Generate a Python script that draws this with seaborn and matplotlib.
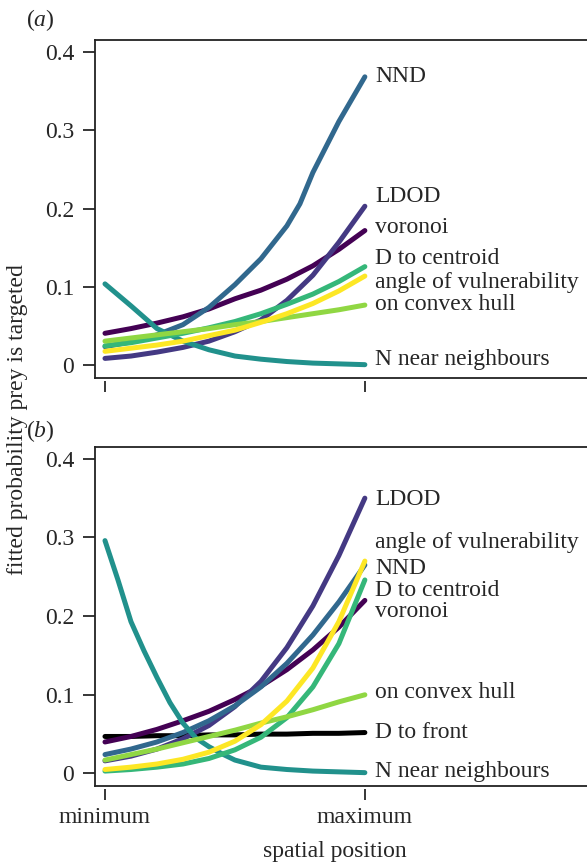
import numpy as np
import pandas as pd
import seaborn as sns
import matplotlib.pyplot as plt

# positions along the spatial gradient (minimum -> maximum)
pos = [0.0, 0.1, 0.2, 0.3, 0.4, 0.5, 0.6, 0.7, 0.8, 0.9, 1.0]
pos_nnd_a = [0.0, 0.1, 0.2, 0.3, 0.4, 0.5, 0.6, 0.7, 0.75, 0.8, 0.9, 1.0]
pos_fine = [0.0, 0.05, 0.1, 0.15, 0.2, 0.25, 0.3, 0.35, 0.4, 0.45, 0.5, 0.6, 0.7, 0.8, 0.9, 1.0]

# panel (a): fitted probability
a_voronoi = [0.041, 0.047, 0.054, 0.062, 0.072, 0.085, 0.096, 0.110, 0.127, 0.148, 0.172]
a_ldod = [0.009, 0.012, 0.017, 0.023, 0.031, 0.043, 0.058, 0.083, 0.115, 0.157, 0.203]
a_nnd = [0.024, 0.030, 0.039, 0.052, 0.074, 0.103, 0.136, 0.178, 0.206, 0.246, 0.311, 0.368]
a_nnear = [0.104, 0.076, 0.047, 0.031, 0.020, 0.012, 0.008, 0.005, 0.003, 0.002, 0.001]
a_dcent = [0.025, 0.029, 0.035, 0.041, 0.048, 0.056, 0.066, 0.078, 0.091, 0.107, 0.126]
a_hull = [0.031, 0.035, 0.039, 0.043, 0.047, 0.052, 0.056, 0.061, 0.066, 0.071, 0.077]
a_angle = [0.018, 0.022, 0.026, 0.031, 0.038, 0.045, 0.055, 0.066, 0.079, 0.095, 0.114]

# panel (b)
b_voronoi = [0.040, 0.047, 0.056, 0.067, 0.079, 0.094, 0.111, 0.132, 0.157, 0.186, 0.220]
b_ldod = [0.016, 0.022, 0.031, 0.044, 0.061, 0.085, 0.117, 0.160, 0.213, 0.277, 0.350]
b_nnd = [0.024, 0.031, 0.040, 0.052, 0.067, 0.086, 0.110, 0.140, 0.176, 0.218, 0.265]
b_nnear = [0.296, 0.246, 0.193, 0.156, 0.122, 0.090, 0.064, 0.045, 0.034, 0.025, 0.017,
           0.008, 0.005, 0.003, 0.002, 0.001]
b_dcent = [0.003, 0.005, 0.008, 0.012, 0.019, 0.030, 0.046, 0.071, 0.110, 0.165, 0.246]
b_hull = [0.017, 0.024, 0.031, 0.039, 0.047, 0.055, 0.064, 0.072, 0.081, 0.091, 0.100]
b_angle = [0.005, 0.008, 0.012, 0.018, 0.027, 0.041, 0.062, 0.092, 0.134, 0.193, 0.270]
b_front = [0.047, 0.047, 0.048, 0.048, 0.049, 0.049, 0.050, 0.050, 0.051, 0.051, 0.052]

names = ['voronoi', 'LDOD', 'NND', 'N near neighbours', 'D to centroid',
         'on convex hull', 'angle of vulnerability', 'D to front']
colours = ['#440154', '#443983', '#31688E', '#21918C', '#35B779',
           '#90D743', '#FDE725', 'black']
palette = dict(zip(names, colours))

panel_a = {'voronoi': (pos, a_voronoi), 'LDOD': (pos, a_ldod), 'NND': (pos_nnd_a, a_nnd),
           'N near neighbours': (pos, a_nnear), 'D to centroid': (pos, a_dcent),
           'on convex hull': (pos, a_hull), 'angle of vulnerability': (pos, a_angle)}
panel_b = {'D to front': (pos, b_front), 'voronoi': (pos, b_voronoi), 'LDOD': (pos, b_ldod),
           'NND': (pos, b_nnd), 'N near neighbours': (pos_fine, b_nnear),
           'D to centroid': (pos, b_dcent), 'on convex hull': (pos, b_hull),
           'angle of vulnerability': (pos, b_angle)}

# label heights (moved apart so they do not overlap)
lab_a = {'NND': 0.369, 'LDOD': 0.215, 'voronoi': 0.176, 'D to centroid': 0.136,
         'angle of vulnerability': 0.106, 'on convex hull': 0.078,
         'N near neighbours': 0.008}
lab_b = {'LDOD': 0.348, 'angle of vulnerability': 0.294, 'NND': 0.261,
         'D to centroid': 0.233, 'voronoi': 0.206, 'on convex hull': 0.103,
         'D to front': 0.052, 'N near neighbours': 0.003}


def long_form(panel):
    rows = []
    for k, (xs, ys) in panel.items():
        for x, y in zip(xs, ys):
            rows.append((k, x, y))
    return pd.DataFrame(rows, columns=['var', 'x', 'p'])


sns.set_theme(style='ticks')
plt.rcParams['font.family'] = ['Liberation Serif', 'DejaVu Serif']
plt.rcParams['mathtext.fontset'] = 'custom'
plt.rcParams['mathtext.it'] = 'Liberation Serif:italic'
plt.rcParams['mathtext.rm'] = 'Liberation Serif'

fig = plt.figure(figsize=(5.87, 8.65), dpi=100)
ax_a = fig.add_axes([0.1618, 0.563, 0.86, 0.3908])
ax_b = fig.add_axes([0.1618, 0.0913, 0.86, 0.3919])

fs = 17
for ax, panel, labs, tag in [(ax_a, panel_a, lab_a, 'a'), (ax_b, panel_b, lab_b, 'b')]:
    df = long_form(panel)
    sns.lineplot(data=df, x='x', y='p', hue='var', palette=palette, ax=ax,
                 legend=False, linewidth=3.6, solid_capstyle='round',
                 solid_joinstyle='round', sort=True)
    for k, yv in labs.items():
        ax.text(1.04, yv, k, fontsize=fs, va='center', ha='left')
    ax.set_xlim(-0.0385, 1.904)
    ax.set_ylim(-0.016, 0.415)
    ax.set_yticks([0, 0.1, 0.2, 0.3, 0.4])
    ax.set_yticklabels(['0', '0.1', '0.2', '0.3', '0.4'])
    ax.set_xticks([])
    ax.set_xlabel('')
    ax.set_ylabel('')
    for s in ax.spines.values():
        s.set_linewidth(1.3)
        s.set_color('#222222')
    ax.tick_params(axis='y', length=9, width=1.3, labelsize=fs, pad=6)
    sec = ax.secondary_xaxis(-0.01)
    sec.spines['bottom'].set_visible(False)
    sec.tick_params(length=8, width=1.3, labelsize=fs, pad=5)
    if tag == 'a':
        sec.set_xticks([0, 1], ['', ''])
    else:
        sec.set_xticks([0, 1], ['minimum', 'maximum'])

fig.text(40 / 587, 1 - 20 / 865, r'($\mathit{a}$)', fontsize=fs, ha='center', va='center')
fig.text(40 / 587, 1 - 431 / 865, r'($\mathit{b}$)', fontsize=fs, ha='center', va='center')
fig.text(18 / 587, 1 - 420 / 865, 'fitted probability prey is targeted', fontsize=fs,
         rotation=90, ha='center', va='center')
fig.text(335 / 587, 1 - 852 / 865, 'spatial position', fontsize=fs, ha='center', va='center')

fig.savefig('out.png', dpi=100)
